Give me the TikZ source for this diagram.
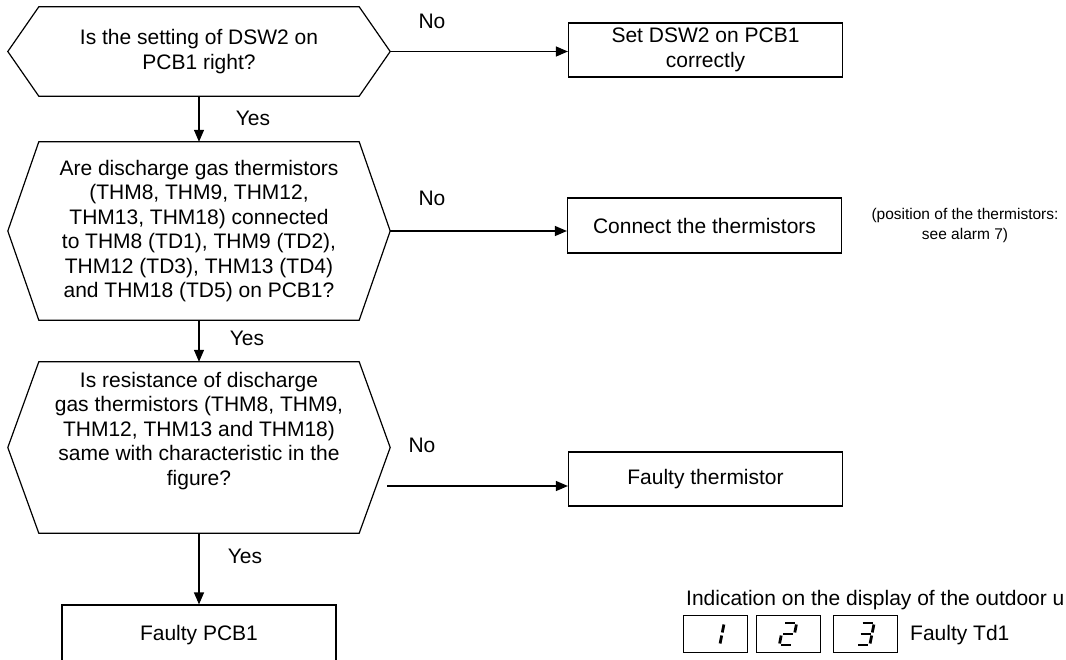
\documentclass[tikz,border=0pt]{standalone}
\usepackage{fontspec}
\setmainfont{Liberation Sans}
\usetikzlibrary{arrows.meta}

% one slanted seven-segment stroke: centre x, then (u1,v1) -- (u2,v2) in the digit cell
\newcommand\digseg[5]{%
  \draw[segline] ({#1-6.5+#2+0.2*(11-#3)},{623+#3}) -- ({#1-6.5+#4+0.2*(11-#5)},{623+#5});}

\begin{document}
\begin{tikzpicture}[x=1pt,y=-1pt,
  line/.style={line width=1.2pt, draw=black},
  flowarrow/.style={line, -{Triangle[length=12pt,width=10pt]}},
  hexq/.style={draw=none, inner sep=0pt, minimum width=382pt},
  hexline/.style={line, line join=miter},
  qtext/.style={align=center, font=\fontsize{21}{24.5}\selectfont, inner sep=0pt},
  actbox/.style={line, rectangle, minimum width=274pt, align=center,
                 font=\fontsize{21}{25}\selectfont, inner sep=0pt},
  lbl/.style={font=\fontsize{21}{25}\selectfont, inner sep=0pt},
  note/.style={align=center, font=\fontsize{15.5}{20}\selectfont, inner sep=0pt},
  digbox/.style={draw, line width=0.9pt, minimum width=64pt, minimum height=37pt, inner sep=0pt},
  segline/.style={line width=2.8pt, line cap=butt}
]
\useasboundingbox (0,0) rectangle (1066,659);

% decision hexagons
\node[hexq, minimum height=89pt]  (q1) at (199,51.5) {};
\node[hexq, minimum height=178pt] (q2) at (199,231) {};
\node[hexq, minimum height=171pt] (q3) at (199,447.5) {};
\foreach \n in {q1,q2,q3}
  \draw[hexline] (\n.west) -- ([xshift=31pt]\n.north west) -- ([xshift=-31pt]\n.north east)
    -- (\n.east) -- ([xshift=-31pt]\n.south east) -- ([xshift=31pt]\n.south west) -- cycle;

\node[qtext] (q1t) at (q1) {Is the setting of DSW2 on\\PCB1 right?};
\node[qtext] (q2t) at (q2) {Are discharge gas thermistors\\(THM8, THM9, THM12,\\THM13, THM18) connected\\to THM8 (TD1), THM9 (TD2),\\THM12 (TD3), THM13 (TD4)\\and THM18 (TD5) on PCB1?};
\node[qtext] (q3t) at (199,431) {Is resistance of discharge\\gas thermistors (THM8, THM9,\\THM12, THM13 and THM18)\\same with characteristic in the\\figure?};

% action boxes
\node[actbox, minimum height=54pt] (a1) at (705.5,50) {Set DSW2 on PCB1\\correctly};
\node[actbox, minimum height=55pt] (a2) at (704.5,225.5) {Connect the thermistors};
\node[actbox, minimum height=54pt] (a3) at (705.5,479) {Faulty thermistor};
\node[actbox, minimum height=60pt] (a4) at (199,635) {Faulty PCB1};

% connectors
\draw[flowarrow] (q1.east) -- (q1.east -| a1.west);
\draw[flowarrow] (q2.east) -- (q2.east -| a2.west);
\coordinate (n3) at (387,486);
\draw[flowarrow] (n3) -- (n3 -| a3.west);
\draw[flowarrow] (q1.south) -- (q2.north);
\draw[flowarrow] (q2.south) -- (q3.north);
\draw[flowarrow] (q3.south) -- (a4.north);

% branch labels
\node[lbl] (no1) at (432,21) {No};
\node[lbl] (no2) at (432,198) {No};
\node[lbl] (no3) at (422,445) {No};
\node[lbl] (yes1) at (253,118) {Yes};
\node[lbl] (yes2) at (247,338) {Yes};
\node[lbl] (yes3) at (245,556) {Yes};

\node[note] (pos) at (965,225) {(position of the thermistors:\\see alarm 7)};

% outdoor unit display
\node[lbl, anchor=base west] (ind) at (686,605) {Indication on the display of the outdoor u};
\node[digbox] (d1) at (715.5,633.5) {};
\node[digbox] (d2) at (788,633.5) {};
\node[digbox] (d3) at (865.5,633.5) {};
\node[lbl, anchor=west] (ft) at (910,635) {Faulty Td1};

% digit 1
\digseg{715.5}{13}{1.5}{13}{9.5}
\digseg{715.5}{13}{12.5}{13}{20.5}
% digit 2
\digseg{788}{1.5}{0}{11.5}{0}
\digseg{788}{13}{1.5}{13}{9.5}
\digseg{788}{1.5}{11}{11.5}{11}
\digseg{788}{0}{12.5}{0}{20.5}
\digseg{788}{1.5}{22}{11.5}{22}
% digit 3
\digseg{865.5}{1.5}{0}{11.5}{0}
\digseg{865.5}{13}{1.5}{13}{9.5}
\digseg{865.5}{1.5}{11}{11.5}{11}
\digseg{865.5}{13}{12.5}{13}{20.5}
\digseg{865.5}{1.5}{22}{11.5}{22}
\end{tikzpicture}
\end{document}
